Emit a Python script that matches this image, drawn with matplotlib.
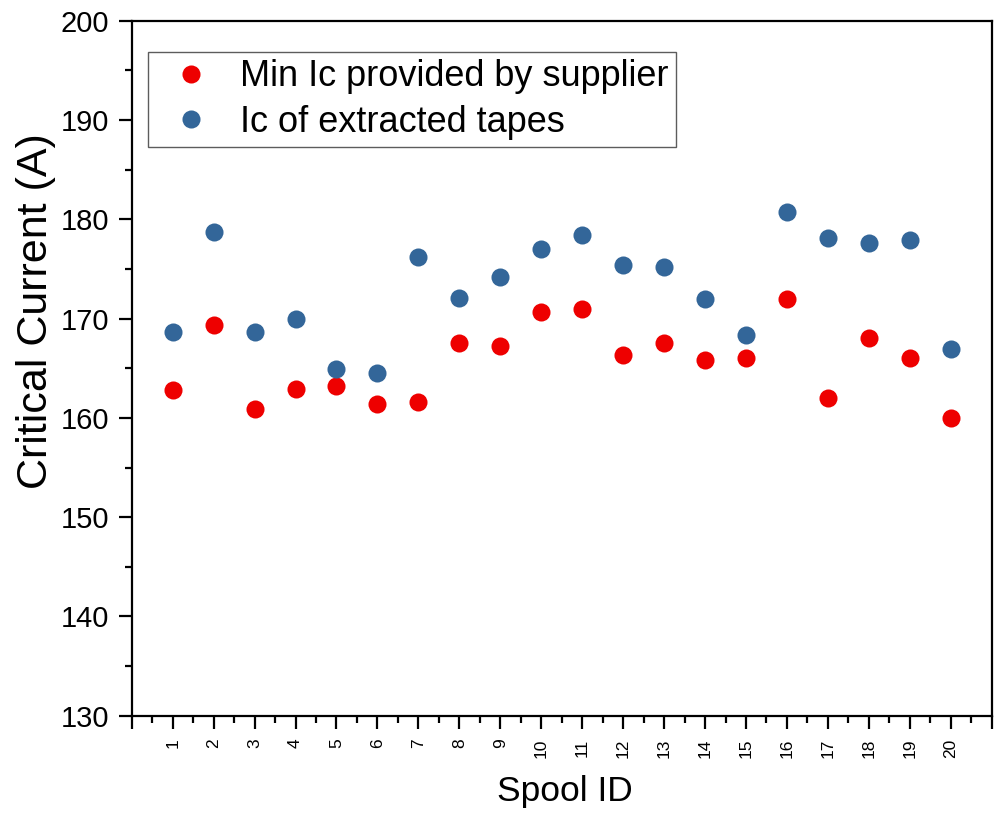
import matplotlib.pyplot as plt
from matplotlib.ticker import MultipleLocator, FixedLocator

plt.rcParams['font.family'] = ['Liberation Sans', 'DejaVu Sans']

# data
spool_ids = list(range(1, 21))
min_ic_supplier = [162.8, 169.4, 160.9, 162.9, 163.2, 161.4, 161.6, 167.5, 167.2, 170.7,
                   171.0, 166.3, 167.5, 165.8, 166.0, 172.0, 162.0, 168.0, 166.0, 160.0]
ic_extracted = [168.6, 178.7, 168.6, 170.0, 164.9, 164.5, 176.2, 172.1, 174.2, 177.0,
                178.4, 175.4, 175.2, 172.0, 168.3, 180.7, 178.1, 177.6, 177.9, 166.9]
tick_labels = [str(i) for i in spool_ids]

red = '#EE0000'
blue = '#336699'

fig = plt.figure(figsize=(9.97, 8.19), dpi=100)
ax = fig.add_axes([0.1321, 0.1261, 0.8626, 0.8486])

ax.plot(spool_ids, min_ic_supplier, 'o', color=red, ms=13, mec='none',
        label='Min Ic provided by supplier')
ax.plot(spool_ids, ic_extracted, 'o', color=blue, ms=13, mec='none',
        label='Ic of extracted tapes')

ax.set_xlim(0, 21)
ax.set_ylim(130, 200)

# major ticks at every integer, labels only on 1..20
ax.xaxis.set_major_locator(FixedLocator(range(0, 22)))
ax.set_xticklabels([''] + tick_labels + [''], rotation=90, fontsize=12.5)
ax.xaxis.set_minor_locator(MultipleLocator(0.5))
ax.yaxis.set_major_locator(MultipleLocator(10))
ax.yaxis.set_minor_locator(MultipleLocator(5))

ax.tick_params(which='major', direction='out', length=9.5, width=1.6, color='black')
ax.tick_params(which='minor', direction='out', length=5, width=1.6, color='black')
ax.tick_params(axis='y', labelsize=21, pad=7)
ax.tick_params(axis='x', pad=7)
for s in ax.spines.values():
    s.set_linewidth(1.6)

ax.set_ylabel('Critical Current (A)', fontsize=31, va='center')
ax.yaxis.set_label_coords(-0.111, 0.582)
ax.set_xlabel('Spool ID', fontsize=25.5)
ax.xaxis.set_label_coords(0.504, -0.085)

leg = ax.legend(loc='upper left', bbox_to_anchor=(0.019, 0.955), fontsize=26,
                frameon=True, fancybox=False, edgecolor='#333333',
                handlelength=2.0, handletextpad=0.35, labelspacing=0.3,
                borderpad=0.2, borderaxespad=0, markerscale=1.0)
leg.get_frame().set_linewidth(1.0)

fig.savefig('out.png', dpi=100)
